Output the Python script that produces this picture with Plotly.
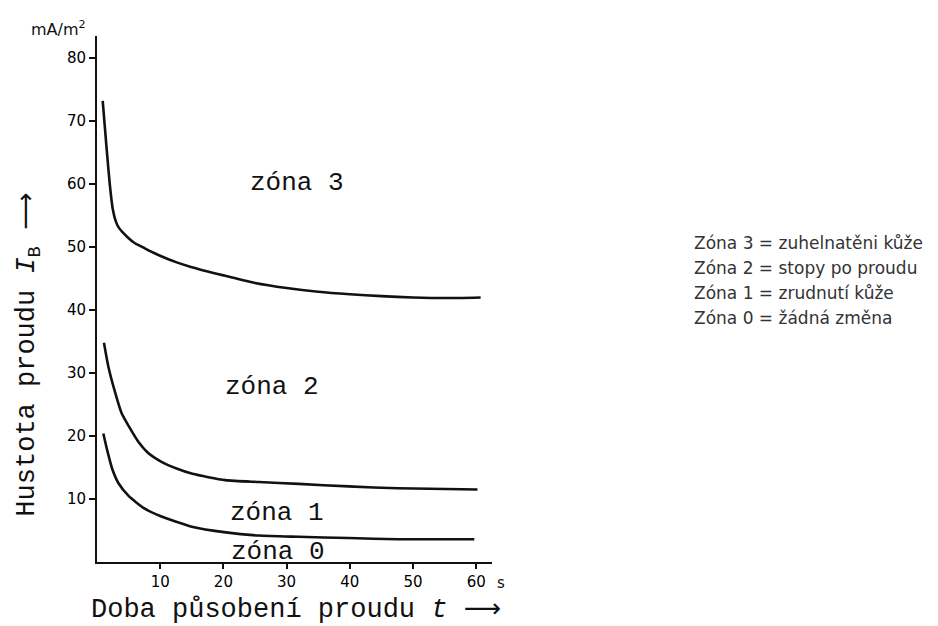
import plotly.graph_objects as go

# ---- data ----
t_zone3 = [0.9, 1.5, 2.0, 2.5, 3.0, 3.5, 4.0, 5.0, 6.0, 7.2, 8.5, 9.8, 12.5, 15, 20, 25, 30, 35, 40, 45, 50, 55, 60.7]
i_zone3 = [73.2, 65.9, 60.2, 56.0, 54.0, 53.0, 52.4, 51.4, 50.6, 50.0, 49.3, 48.7, 47.6, 46.8, 45.5, 44.3, 43.5, 42.9, 42.5, 42.2, 42.0, 41.9, 42.0]

t_zone2 = [1.1, 1.8, 2.9, 3.9, 5.0, 6.6, 8.1, 10.2, 12.7, 15.1, 20.3, 25.6, 31.9, 39.8, 47.6, 60.2]
i_zone2 = [34.8, 31.0, 26.8, 23.6, 21.6, 19.0, 17.3, 15.9, 14.8, 14.0, 13.0, 12.7, 12.4, 12.0, 11.7, 11.5]

t_zone1 = [1.0, 1.6, 2.4, 3.4, 5.0, 7.5, 10.0, 15.0, 20.4, 25.6, 31.9, 39.8, 47.6, 59.7]
i_zone1 = [20.4, 17.8, 14.8, 12.5, 10.5, 8.5, 7.3, 5.6, 4.7, 4.2, 4.0, 3.8, 3.6, 3.6]

x_ticks = [10, 20, 30, 40, 50, 60]
y_ticks = [10, 20, 30, 40, 50, 60, 70, 80]

zone_labels = ["zóna 3", "zóna 2", "zóna 1", "zóna 0"]
zone_label_t = [31.7, 27.7, 28.5, 28.7]
zone_label_i = [60.2, 27.8, 7.8, 1.6]

legend_labels = [
    "Zóna 3 = zuhelnatěni kůže",
    "Zóna 2 = stopy po proudu",
    "Zóna 1 = zrudnutí kůže",
    "Zóna 0 = žádná změna",
]

ARROW = "<span style='font-family:DejaVu Sans;font-size:26px'>⟶</span>"
x_title = "Doba působení proudu <i>t</i> " + ARROW
y_title = "Hustota proudu <i>I</i><sub>B</sub> " + ARROW
unit_label = "mA/m<sup>2</sup>"

# ---- figure ----
MONO = "Liberation Mono, Courier New, monospace"
SANS = "DejaVu Sans, Arial, sans-serif"
INK = "#111111"

fig = go.Figure()
for tx, iy in [(t_zone3, i_zone3), (t_zone2, i_zone2), (t_zone1, i_zone1)]:
    fig.add_trace(go.Scatter(
        x=tx, y=iy, mode="lines", line=dict(color=INK, width=2.6, shape="spline", smoothing=0.6),
        showlegend=False, hoverinfo="skip"))

for lab, tx, iy in zip(zone_labels, zone_label_t, zone_label_i):
    fig.add_annotation(x=tx, y=iy, text=lab, showarrow=False,
                       font=dict(family=MONO, size=26, color=INK),
                       xanchor="center", yanchor="middle")

# legend text (right side)
leg_y = [0.6065, 0.559, 0.511, 0.464]
for lab, yy in zip(legend_labels, leg_y):
    fig.add_annotation(x=1.506, y=yy, xref="paper", yref="paper", text=lab, showarrow=False,
                       font=dict(family=SANS, size=17, color="#333333"),
                       xanchor="left", yanchor="middle")

# unit label
fig.add_annotation(x=0, y=1, xref="paper", yref="paper", text=unit_label, showarrow=False,
                   font=dict(family=SANS, size=16, color=INK),
                   xanchor="right", yanchor="middle", xshift=-9, yshift=8)

# "s" after the 60 tick label
fig.add_annotation(x=60, y=0, yref="paper", text="s", showarrow=False,
                   font=dict(family=SANS, size=15, color=INK),
                   xanchor="center", yanchor="middle", xshift=25, yshift=-21)

# axis titles as annotations
fig.add_annotation(x=0.504, y=-0.089, xref="paper", yref="paper", text=x_title, showarrow=False,
                   font=dict(family=MONO, size=27, color=INK),
                   xanchor="center", yanchor="middle")
fig.add_annotation(x=-0.175, y=0.394, xref="paper", yref="paper", text=y_title, showarrow=False,
                   textangle=-90, font=dict(family=MONO, size=27, color=INK),
                   xanchor="center", yanchor="middle")

fig.update_xaxes(range=[0, 62.5], tickvals=x_ticks, ticktext=[str(v) for v in x_ticks],
                 showgrid=False, zeroline=False, showline=True, linecolor=INK, linewidth=2,
                 ticks="outside", ticklen=5, tickwidth=1.5, tickcolor=INK,
                 tickfont=dict(family=SANS, size=15, color="#000000"))
fig.update_yaxes(range=[0, 83.5], tickvals=y_ticks, ticktext=[str(v) for v in y_ticks],
                 showgrid=False, zeroline=False, showline=True, linecolor=INK, linewidth=2,
                 ticks="outside", ticklen=6, tickwidth=1.5, tickcolor=INK,
                 tickfont=dict(family=SANS, size=15, color="#000000"))

# page body has an 8 px margin: the figure is shifted by (8, 8)
fig.update_layout(
    width=930, height=618,
    margin=dict(l=89, r=446, t=28, b=64, autoexpand=False),
    paper_bgcolor="white", plot_bgcolor="white",
)

fig.write_html("out.html")
